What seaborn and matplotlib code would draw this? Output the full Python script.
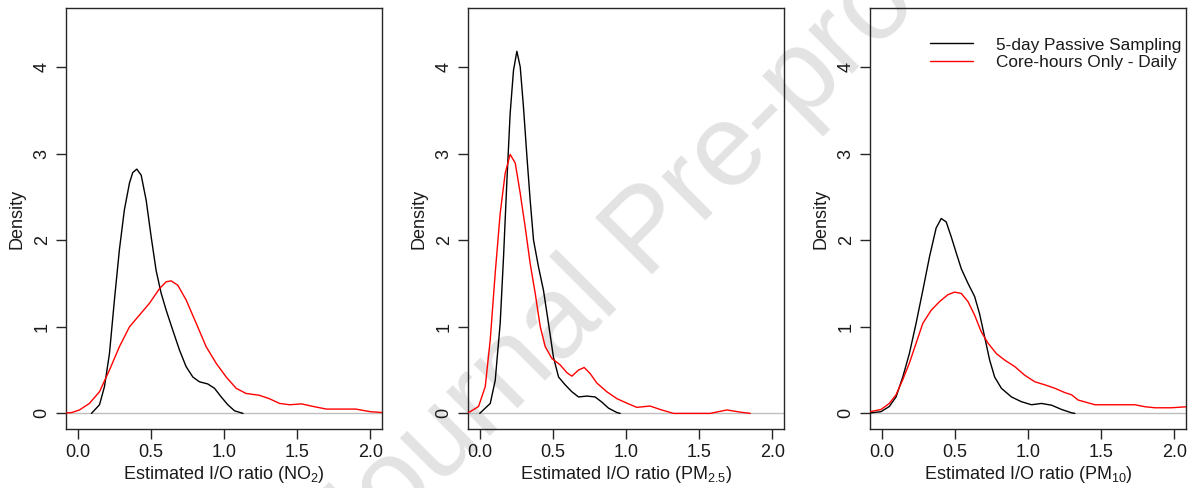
import numpy as np
import pandas as pd
import matplotlib
matplotlib.use("Agg")
import matplotlib.pyplot as plt
from matplotlib.lines import Line2D
import seaborn as sns

# ---------------- data ----------------
series_names = ["5-day Passive Sampling", "Core-hours Only - Daily"]
series_colors = ["black", "#FF0000"]
xlabels = [r"Estimated I/O ratio (NO$_\mathregular{2}$)",
           r"Estimated I/O ratio (PM$_\mathregular{2.5}$)",
           r"Estimated I/O ratio (PM$_\mathregular{10}$)"]
xtick_values = [0.0, 0.5, 1.0, 1.5, 2.0]
xtick_labels = ["0.0", "0.5", "1.0", "1.5", "2.0"]
ytick_values = [0, 1, 2, 3, 4]
ytick_labels = ["0", "1", "2", "3", "4"]

# NO2 panel
no2_passive_x = [0.094, 0.149, 0.183, 0.217, 0.251, 0.285, 0.319, 0.354, 0.376, 0.404,
                 0.434, 0.468, 0.502, 0.536, 0.570, 0.605, 0.650, 0.696, 0.741, 0.787,
                 0.832, 0.889, 0.935, 0.981, 1.026, 1.072, 1.13]
no2_passive_y = [0.0, 0.10, 0.31, 0.69, 1.31, 1.89, 2.35, 2.66, 2.78, 2.82,
                 2.75, 2.46, 2.04, 1.65, 1.39, 1.19, 0.96, 0.73, 0.54, 0.42,
                 0.365, 0.34, 0.29, 0.19, 0.10, 0.03, 0.0]
no2_core_x = [-0.08, -0.04, 0.012, 0.08, 0.149, 0.217, 0.285, 0.354, 0.422, 0.49,
              0.559, 0.605, 0.639, 0.684, 0.741, 0.81, 0.878, 0.946, 1.015, 1.083,
              1.151, 1.24, 1.31, 1.38, 1.45, 1.53, 1.61, 1.70, 1.90, 2.0, 2.08]
no2_core_y = [0.005, 0.01, 0.04, 0.115, 0.25, 0.50, 0.77, 1.0, 1.135, 1.27,
              1.44, 1.52, 1.53, 1.48, 1.31, 1.04, 0.77, 0.58, 0.42, 0.29,
              0.23, 0.21, 0.17, 0.115, 0.10, 0.11, 0.08, 0.05, 0.05, 0.02, 0.01]

# PM2.5 panel
pm25_passive_x = [0.0, 0.072, 0.106, 0.14, 0.163, 0.186, 0.208, 0.231, 0.254, 0.277,
                  0.299, 0.323, 0.345, 0.368, 0.402, 0.436, 0.470, 0.504, 0.539, 0.584,
                  0.630, 0.675, 0.733, 0.789, 0.835, 0.881, 0.938, 0.96]
pm25_passive_y = [0.0, 0.115, 0.38, 1.04, 1.81, 2.69, 3.46, 3.96, 4.18, 4.0,
                  3.54, 2.96, 2.46, 2.0, 1.69, 1.42, 1.04, 0.65, 0.42, 0.33,
                  0.25, 0.19, 0.20, 0.19, 0.13, 0.06, 0.01, 0.0]
pm25_core_x = [-0.08, -0.065, -0.008, 0.038, 0.072, 0.106, 0.14, 0.174, 0.208, 0.243,
               0.277, 0.311, 0.345, 0.379, 0.414, 0.448, 0.493, 0.550, 0.596, 0.630,
               0.675, 0.714, 0.755, 0.801, 0.869, 0.938, 1.017, 1.074, 1.165, 1.234,
               1.325, 1.575, 1.69, 1.78, 1.85]
pm25_core_y = [0.01, 0.02, 0.08, 0.31, 0.85, 1.62, 2.31, 2.77, 2.99, 2.89,
               2.54, 2.15, 1.73, 1.39, 1.0, 0.77, 0.635, 0.56, 0.47, 0.43,
               0.50, 0.53, 0.46, 0.35, 0.25, 0.17, 0.11, 0.07, 0.085, 0.045,
               0.0, 0.0, 0.04, 0.015, 0.0]

# PM10 panel
pm10_passive_x = [-0.08, -0.005, 0.052, 0.098, 0.144, 0.189, 0.235, 0.281, 0.327, 0.372,
                  0.407, 0.441, 0.475, 0.510, 0.544, 0.590, 0.635, 0.669, 0.704, 0.738,
                  0.772, 0.818, 0.887, 0.955, 1.024, 1.092, 1.161, 1.230, 1.298, 1.32]
pm10_passive_y = [0.005, 0.02, 0.08, 0.19, 0.42, 0.69, 1.04, 1.42, 1.81, 2.14,
                  2.25, 2.21, 2.04, 1.85, 1.67, 1.50, 1.35, 1.15, 0.88, 0.615,
                  0.42, 0.29, 0.19, 0.135, 0.10, 0.115, 0.095, 0.045, 0.007, 0.0]
pm10_core_x = [-0.08, -0.005, 0.052, 0.098, 0.144, 0.189, 0.235, 0.281, 0.338, 0.395,
               0.452, 0.498, 0.544, 0.590, 0.635, 0.681, 0.727, 0.784, 0.841, 0.910,
               0.978, 1.047, 1.115, 1.184, 1.252, 1.298, 1.342, 1.457, 1.73, 1.80,
               1.87, 1.98, 2.085]
pm10_core_y = [0.02, 0.045, 0.115, 0.215, 0.39, 0.58, 0.81, 1.04, 1.19, 1.29,
               1.37, 1.40, 1.385, 1.29, 1.135, 0.94, 0.81, 0.69, 0.615, 0.54,
               0.44, 0.365, 0.33, 0.29, 0.24, 0.215, 0.155, 0.10, 0.10, 0.077,
               0.065, 0.065, 0.077]

panels = [
    (no2_passive_x, no2_passive_y, no2_core_x, no2_core_y),
    (pm25_passive_x, pm25_passive_y, pm25_core_x, pm25_core_y),
    (pm10_passive_x, pm10_passive_y, pm10_core_x, pm10_core_y),
]

# ---------------- style ----------------
sns.set_style("ticks")
plt.rcParams["font.family"] = ["Liberation Sans", "DejaVu Sans"]
plt.rcParams["mathtext.fontset"] = "custom"
plt.rcParams["mathtext.rm"] = "Liberation Sans"
plt.rcParams["mathtext.it"] = "Liberation Sans:italic"
FS = 13
frame_col = "#262626"
text_col = "#1a1a1a"

fig = plt.figure(figsize=(11.9, 4.88), dpi=100)
fig.patch.set_facecolor("white")

lefts_px = [66, 468, 870]
w_px, top_px, bot_px = 316, 8, 429
W, H = 1190, 488

# watermark
fig.text(0.545, 0.52, "Journal Pre-proof", rotation=45, fontsize=84,
         color="#e3e3e3", ha="center", va="center", zorder=-5)

palette = dict(zip(series_names, series_colors))
axes = []
for i, (px, py, cx, cy) in enumerate(panels):
    ax = fig.add_axes([lefts_px[i] / W, (H - bot_px) / H, w_px / W, (bot_px - top_px) / H])
    ax.patch.set_alpha(0)
    df = pd.concat([
        pd.DataFrame({"x": px, "density": py, "series": series_names[0]}),
        pd.DataFrame({"x": cx, "density": cy, "series": series_names[1]}),
    ], ignore_index=True)
    ax.axhline(0, color="#bebebe", lw=1.0, zorder=1)
    sns.lineplot(data=df, x="x", y="density", hue="series", palette=palette,
                 estimator=None, sort=False, lw=1.0, legend=False, ax=ax, zorder=3)
    ax.set_xlim(-0.08, 2.08)
    ax.set_ylim(-0.18, 4.68)
    ax.set_xticks(xtick_values)
    ax.set_xticklabels(xtick_labels)
    ax.set_yticks(ytick_values)
    ax.set_yticklabels(ytick_labels, rotation=90, va="center")
    ax.tick_params(axis="both", direction="out", length=7, width=1.0,
                   color=frame_col, labelsize=FS, labelcolor=text_col, pad=4)
    for s in ax.spines.values():
        s.set_color(frame_col)
        s.set_linewidth(1.0)
    ax.set_xlabel(xlabels[i], fontsize=FS, color=text_col, labelpad=2)
    ax.set_ylabel("Density", fontsize=FS, color=text_col, labelpad=6)
    axes.append(ax)

handles = [Line2D([], [], color=c, lw=1.0) for c in series_colors]
axes[2].legend(handles, series_names, loc="upper right", bbox_to_anchor=(0.985, 0.93),
               frameon=False, fontsize=12.4, handlelength=2.5, handletextpad=1.3,
               labelspacing=0.12, borderaxespad=0, borderpad=0, labelcolor=text_col)

fig.savefig("out.png", dpi=100)
